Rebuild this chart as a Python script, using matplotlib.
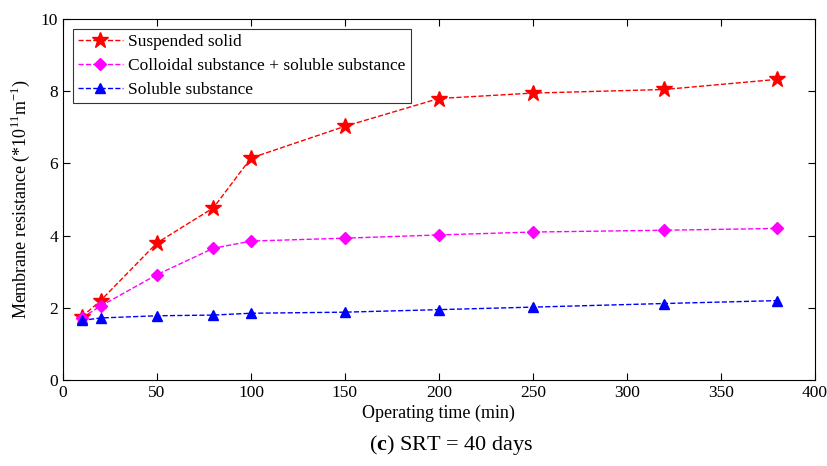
import numpy as np
import matplotlib.pyplot as plt

plt.rcParams["font.family"] = ["Liberation Serif", "DejaVu Serif"]
plt.rcParams["mathtext.fontset"] = "custom"
plt.rcParams["mathtext.rm"] = "Liberation Serif"
plt.rcParams["mathtext.bf"] = "Liberation Serif:bold"

time_min = [10, 20, 50, 80, 100, 150, 200, 250, 320, 380]
suspended = [1.75, 2.2, 3.8, 4.77, 6.15, 7.03, 7.8, 7.95, 8.05, 8.33]
colloidal = [1.72, 2.05, 2.92, 3.65, 3.85, 3.93, 4.02, 4.1, 4.15, 4.2]
soluble = [1.65, 1.72, 1.78, 1.8, 1.85, 1.88, 1.95, 2.02, 2.12, 2.2]

fig = plt.figure(figsize=(8.27, 4.66), dpi=100)
ax = fig.add_axes([0.0762, 0.1845, 0.909, 0.7745])

ax.plot(time_min, suspended, "--", color="red", marker="*", markersize=12,
        lw=1, label="Suspended solid")
ax.plot(time_min, colloidal, "--", color="magenta", marker="D", markersize=6.5,
        lw=1, label="Colloidal substance + soluble substance")
ax.plot(time_min, soluble, "--", color="blue", marker="^", markersize=7.5,
        lw=1, label="Soluble substance")

ax.set_xlim(0, 400)
ax.set_ylim(0, 10)
ax.set_xticks(np.arange(0, 401, 50))
ax.set_yticks(np.arange(0, 11, 2))
ax.tick_params(direction="in", top=True, right=True, labelsize=12.5, length=5)
for s in ax.spines.values():
    s.set_linewidth(0.8)

ax.set_xlabel("Operating time (min)", fontsize=13, labelpad=3)
ax.set_ylabel(r"Membrane resistance (*10$^{11}$m$^{-1}$)", fontsize=13,
              labelpad=6)

leg = ax.legend(loc="upper left", fontsize=12.5, frameon=True, fancybox=False,
                edgecolor="black", handlelength=2.6, borderaxespad=0.55,
                labelspacing=0.45, handletextpad=0.3, borderpad=0.3)
leg.get_frame().set_linewidth(0.8)

fig.text(0.546, 0.035, r"($\mathbf{c}$) SRT = 40 days", ha="center", fontsize=16)

fig.savefig("out.png", dpi=100)
